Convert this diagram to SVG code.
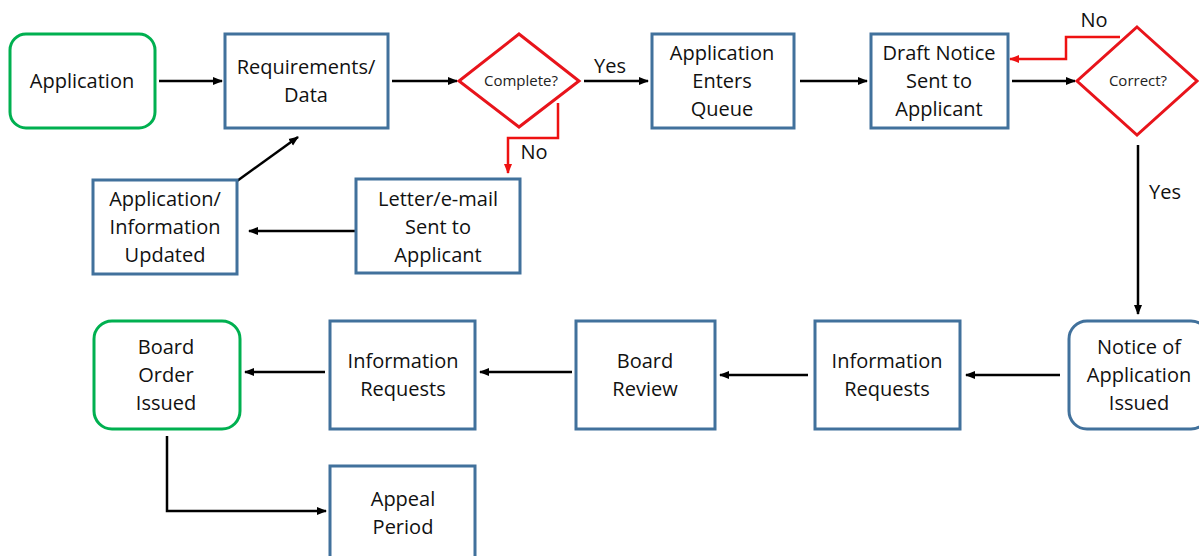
<svg xmlns="http://www.w3.org/2000/svg" width="1199" height="556" viewBox="0 0 1199 556">
<style>
.box{fill:#fff;stroke:#41719C;stroke-width:3}
.start{fill:#fff;stroke:#00B050;stroke-width:3}
.dec{fill:#fff;stroke:#E8141B;stroke-width:3}
.t{font-family:"Open Sans","Liberation Sans",sans-serif;font-size:20px;fill:#111;text-anchor:middle}
.s{font-family:"Open Sans","Liberation Sans",sans-serif;font-size:15px;fill:#222;text-anchor:middle}
.c{fill:none;stroke:#000;stroke-width:2.5}
.r{fill:none;stroke:#EE1111;stroke-width:2.5}
</style>
<defs>
<marker id="ab" markerUnits="userSpaceOnUse" markerWidth="10" markerHeight="10" viewBox="0 0 10 10" refX="9" refY="5" orient="auto"><path d="M0 1 L10 5 L0 9 Z" fill="#000"/></marker>
<marker id="ar" markerUnits="userSpaceOnUse" markerWidth="10" markerHeight="10" viewBox="0 0 10 10" refX="9" refY="5" orient="auto"><path d="M0 1 L10 5 L0 9 Z" fill="#EE1111"/></marker>
</defs>
<g id="connectors">
<path class="c" d="M159 81 H222" marker-end="url(#ab)"/>
<path class="c" d="M392 81 H457" marker-end="url(#ab)"/>
<path class="c" d="M584 81 H648" marker-end="url(#ab)"/>
<path class="c" d="M800 81 H867" marker-end="url(#ab)"/>
<path class="c" d="M1012 81 H1075" marker-end="url(#ab)"/>
<path class="c" d="M1138 145 V314" marker-end="url(#ab)"/>
<path class="c" d="M356 231 H249" marker-end="url(#ab)"/>
<path class="c" d="M237 181 L298 137" marker-end="url(#ab)"/>
<path class="c" d="M1060 375 H966" marker-end="url(#ab)"/>
<path class="c" d="M808 375 H720" marker-end="url(#ab)"/>
<path class="c" d="M572 372 H480" marker-end="url(#ab)"/>
<path class="c" d="M325 372 H245" marker-end="url(#ab)"/>
<path class="c" d="M167 436 V511 H326" marker-end="url(#ab)"/>
<path class="r" d="M558 103 V138 H508 V173" marker-end="url(#ar)"/>
<path class="r" d="M1120 37 H1066 V59 H1010" marker-end="url(#ar)"/>
<text class="t" x="610" y="73">Yes</text>
<text class="t" x="534" y="159">No</text>
<text class="t" x="1094" y="27">No</text>
<text class="t" x="1165" y="199">Yes</text>
</g>
<g id="application"><rect class="start" x="10" y="34" width="145" height="94" rx="16"/><text class="t" x="82" y="88">Application</text></g>
<g id="requirements"><rect class="box" x="225" y="34" width="163" height="94"/><text class="t" x="306" y="74">Requirements/</text><text class="t" x="306" y="102">Data</text></g>
<g id="complete"><polygon class="dec" points="519,34 579,81 519,127 459,81"/><text class="s" x="521" y="86">Complete?</text></g>
<g id="queue"><rect class="box" x="652" y="34" width="142" height="94"/><text class="t" x="722" y="60">Application</text><text class="t" x="722" y="88">Enters</text><text class="t" x="722" y="116">Queue</text></g>
<g id="draft"><rect class="box" x="871" y="34" width="137" height="94"/><text class="t" x="939" y="60">Draft Notice</text><text class="t" x="939" y="88">Sent to</text><text class="t" x="939" y="116">Applicant</text></g>
<g id="correct"><polygon class="dec" points="1137,27 1197,81 1137,135 1077,81"/><text class="s" x="1138" y="86">Correct?</text></g>
<g id="letter"><rect class="box" x="356" y="179" width="164" height="94"/><text class="t" x="438" y="206">Letter/e-mail</text><text class="t" x="438" y="234">Sent to</text><text class="t" x="438" y="262">Applicant</text></g>
<g id="updated"><rect class="box" x="93" y="180" width="144" height="94"/><text class="t" x="165" y="206">Application/</text><text class="t" x="165" y="234">Information</text><text class="t" x="165" y="262">Updated</text></g>
<g id="notice"><rect class="box" x="1069" y="321" width="140" height="108" rx="18"/><text class="t" x="1139" y="354">Notice of</text><text class="t" x="1139" y="382">Application</text><text class="t" x="1139" y="410">Issued</text></g>
<g id="info2"><rect class="box" x="815" y="321" width="145" height="108"/><text class="t" x="887" y="368">Information</text><text class="t" x="887" y="396">Requests</text></g>
<g id="review"><rect class="box" x="576" y="321" width="139" height="108"/><text class="t" x="645" y="368">Board</text><text class="t" x="645" y="396">Review</text></g>
<g id="info1"><rect class="box" x="330" y="321" width="145" height="108"/><text class="t" x="403" y="368">Information</text><text class="t" x="403" y="396">Requests</text></g>
<g id="order"><rect class="start" x="94" y="321" width="146" height="108" rx="18"/><text class="t" x="166" y="354">Board</text><text class="t" x="166" y="382">Order</text><text class="t" x="166" y="410">Issued</text></g>
<g id="appeal"><rect class="box" x="330" y="466" width="145" height="100"/><text class="t" x="403" y="506">Appeal</text><text class="t" x="403" y="534">Period</text></g>
</svg>
